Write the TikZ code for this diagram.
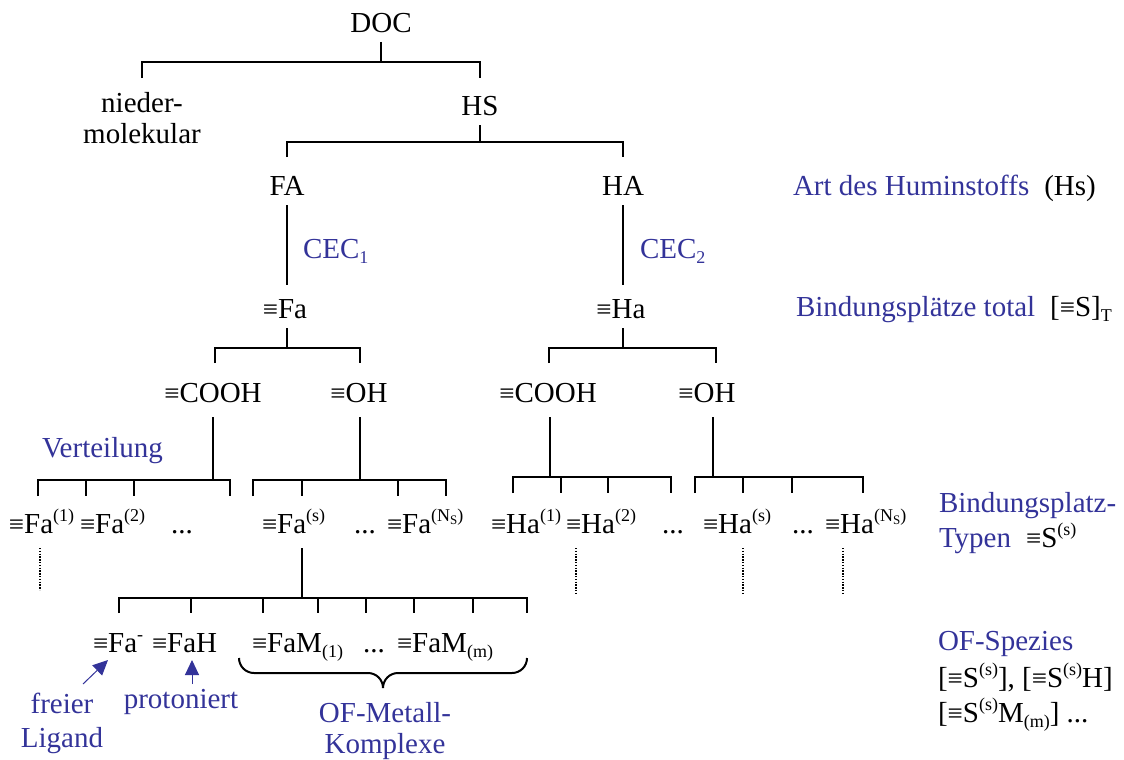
\documentclass[tikz,border=0pt]{standalone}
\usepackage{fontspec}
\setmainfont{Liberation Serif}
\usetikzlibrary{arrows.meta}
\definecolor{tblue}{RGB}{51,51,153}
\newcommand\eqv{{\fontsize{27}{27}\selectfont ≡}}
\newcommand\sps[1]{\raisebox{12pt}{\fontsize{18}{18}\selectfont #1}}
\newcommand\sbs[1]{\raisebox{-5pt}{\fontsize{18}{18}\selectfont #1}}
\newcommand\Nsx{\sps{(N\raisebox{-3pt}{\fontsize{13}{13}\selectfont S})}}
\begin{document}
\begin{tikzpicture}[x=1pt,y=-1pt,
  every node/.style={inner sep=0pt, outer sep=0pt, font=\fontsize{29}{34}\selectfont},
  lbl/.style={anchor=base},
  lblw/.style={anchor=base west},
  note/.style={text=tblue},
  tree/.style={line width=2pt},
  dots/.style={line width=1.4pt, dash pattern=on 1.4pt off 1.4pt},
  arr/.style={draw=tblue, line width=1pt, -{Triangle[length=15pt,width=14pt]}}
]
\useasboundingbox (0,0) rectangle (1124,760);

% --- top levels
\node[lbl] (doc) at (381,33) {DOC};
\node[lbl] (nied) at (142,112) {nieder-};
\node[lbl] (molek) at (142,143) {molekular};
\node[lbl] (hs) at (480,115) {HS};
\node[lbl] (fa) at (287,195) {FA};
\node[lbl] (ha) at (623,195) {HA};
\node[lblw,note] (cec1) at (303,258) {CEC\sbs{1}};
\node[lblw,note] (cec2) at (640,258) {CEC\sbs{2}};
\node[lbl] (fas) at (285,318) {\eqv Fa};
\node[lbl] (has) at (621,318) {\eqv Ha};
\node[lbl] (fcooh) at (213,402) {\eqv COOH};
\node[lbl] (foh) at (359,402) {\eqv OH};
\node[lbl] (hcooh) at (548,402) {\eqv COOH};
\node[lbl] (hoh) at (707,402) {\eqv OH};
\node[lblw,note] (vert) at (42,457) {Verteilung};

% --- row 1
\node[lblw] (f1) at (9,533) {\eqv Fa\sps{(1)}};
\node[lblw] (f2) at (80,533) {\eqv Fa\sps{(2)}};
\node[lblw] (fd1) at (171,533) {...};
\node[lblw] (fs) at (262,533) {\eqv Fa\sps{(s)}};
\node[lblw] (fd2) at (354,533) {...};
\node[lblw] (fn) at (387,533) {\eqv Fa\Nsx};
\node[lblw] (h1) at (491,533) {\eqv Ha\sps{(1)}};
\node[lblw] (h2) at (566,533) {\eqv Ha\sps{(2)}};
\node[lblw] (hd1) at (662,533) {...};
\node[lblw] (hs1) at (703,533) {\eqv Ha\sps{(s)}};
\node[lblw] (hd2) at (792,533) {...};
\node[lblw] (hn) at (825,533) {\eqv Ha\Nsx};

% --- row 2
\node[lblw] (fam) at (93,652) {\eqv Fa\sps{-}};
\node[lblw] (fah) at (152,652) {\eqv FaH};
\node[lblw] (fm1) at (252,652) {\eqv FaM\sbs{(1)}};
\node[lblw] (fmd) at (363,652) {...};
\node[lblw] (fmm) at (397,652) {\eqv FaM\sbs{(m)}};

\node[lbl,note] (frei) at (62,713) {freier};
\node[lbl,note] (lig) at (62,747) {Ligand};
\node[lbl,note] (prot) at (181,708) {protoniert};
\node[lbl,note] (ofm) at (385,722) {OF-Metall-};
\node[lbl,note] (kompl) at (385,753) {Komplexe};

% --- right column
\node[lblw] (art) at (793,195) {\textcolor{tblue}{Art des Huminstoffs}\hspace{15pt}(Hs)};
\node[lblw] (bpt) at (796,316) {\textcolor{tblue}{Bindungsplätze total}\hspace{15pt}[\eqv S]\sbs{T}};
\node[lblw,note] (bpt1) at (939,512) {Bindungsplatz-};
\node[lblw] (bpt2) at (939,547) {\textcolor{tblue}{Typen}\hspace{15pt}\eqv S\sps{(s)}};
\node[lblw,note] (ofs) at (938,650) {OF-Spezies};
\node[lblw] (ofs2) at (938,687) {[\eqv S\sps{(s)}], [\eqv S\sps{(s)}H]};
\node[lblw] (ofs3) at (938,722) {[\eqv S\sps{(s)}M\sbs{(m)}] ...};

% --- tree connectors
\draw[tree] (doc |- 0,42) -- (doc |- 0,62);
\draw[tree] (nied |- 0,78) -- (nied |- 0,62) -- (hs |- 0,62) -- (hs |- 0,78);
\draw[tree] (hs |- 0,125) -- (hs |- 0,142);
\draw[tree] (fa |- 0,157) -- (fa |- 0,142) -- (ha |- 0,142) -- (ha |- 0,157);
\draw[tree] (fa |- 0,205) -- (fa |- 0,285);
\draw[tree] (ha |- 0,205) -- (ha |- 0,285);
\draw[tree] (287,328) -- (287,348);
\draw[tree] (215,363) -- (215,348) -- (360,348) -- (360,363);
\draw[tree] (623,328) -- (623,348);
\draw[tree] (549,363) -- (549,348) -- (716,348) -- (716,363);

\draw[tree] (213,417) -- (213,480);
\draw[tree] (38,496) -- (38,480) -- (230,480) -- (230,496);
\draw[tree] (86,480) -- (86,496) (134,480) -- (134,496);
\draw[tree] (360,417) -- (360,480);
\draw[tree] (253,496) -- (253,480) -- (446,480) -- (446,496);
\draw[tree] (302,480) -- (302,496) (398,480) -- (398,496);

\draw[tree] (550,417) -- (550,477);
\draw[tree] (513,493) -- (513,477) -- (671,477) -- (671,493);
\draw[tree] (561,477) -- (561,493) (608,477) -- (608,493);
\draw[tree] (713,417) -- (713,477);
\draw[tree] (695,493) -- (695,477) -- (863,477) -- (863,493);
\draw[tree] (743,477) -- (743,493) (792,477) -- (792,493);

\draw[tree] (302,548) -- (302,598);
\draw[tree] (119,613) -- (119,598) -- (527,598) -- (527,613);
\foreach \x in {191,263,318,366,414,473} \draw[tree] (\x,598) -- (\x,613);

% dotted continuations
\draw[dots] (40,548) -- (40,590);
\draw[dots] (576,548) -- (576,593);
\draw[dots] (743,548) -- (743,593);
\draw[dots] (843,548) -- (843,593);

% brace
\draw[line width=2pt] (239,658) to[out=-90,in=180] (254,673) -- (368,673)
  to[out=0,in=90] (383,688) to[out=90,in=180] (398,673) -- (512,673)
  to[out=0,in=-90] (527,658);

% arrows
\draw[arr] (83,684) -- (108,660);
\draw[arr] (192,684) -- (192,660);
\end{tikzpicture}
\end{document}
